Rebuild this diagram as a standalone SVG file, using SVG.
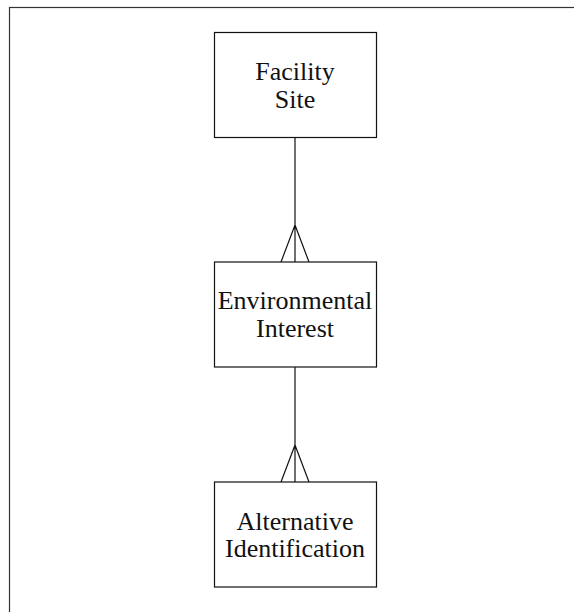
<svg xmlns="http://www.w3.org/2000/svg" width="574" height="612" viewBox="0 0 574 612">
  <style>
    .frame { fill: none; stroke: #333; stroke-width: 1.2; }
    .entity rect { fill: #fff; stroke: #111; stroke-width: 1.2; }
    .entity text { font-family: "Liberation Serif", "Times New Roman", serif; font-size: 26px; fill: #111; text-anchor: middle; }
    .connectors path { fill: none; stroke: #111; stroke-width: 1.2; }
  </style>
  <rect width="574" height="612" fill="#fff"/>
  <rect class="frame" x="9.5" y="7.5" width="600" height="640"/>

  <g class="connectors">
    <!-- Facility Site 1 : N Environmental Interest -->
    <path d="M295 137.5 V262 M281 262 L295 225 L309 262"/>
    <!-- Environmental Interest 1 : N Alternative Identification -->
    <path d="M295 367 V482 M281 482 L295 445 L309 482"/>
  </g>

  <g id="facility-site" class="entity">
    <rect x="214.5" y="32.5" width="162" height="105"/>
    <text x="295" y="80">Facility</text>
    <text x="295" y="108">Site</text>
  </g>

  <g id="environmental-interest" class="entity">
    <rect x="214.5" y="262" width="162" height="105"/>
    <text x="295" y="309">Environmental</text>
    <text x="295" y="337">Interest</text>
  </g>

  <g id="alternative-identification" class="entity">
    <rect x="214.5" y="482" width="162" height="105"/>
    <text x="295" y="530">Alternative</text>
    <text x="295" y="557">Identification</text>
  </g>
</svg>
